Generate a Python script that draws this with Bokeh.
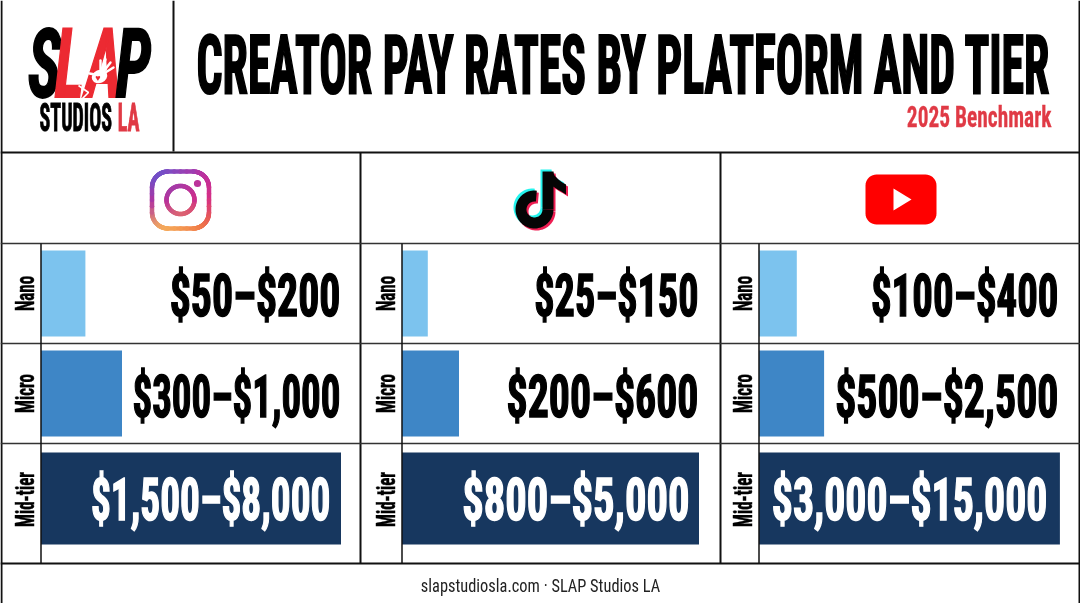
import numpy as np
from bokeh.plotting import figure
from bokeh.models import Range1d, CustomJS
from bokeh.document import Document
from bokeh.core.properties import value
from bokeh.embed import file_html
from bokeh.resources import INLINE

TITLE = "CREATOR PAY RATES BY PLATFORM AND TIER"
SUBTITLE = "2025 Benchmark"
FOOTER = "slapstudiosla.com · SLAP Studios LA"
tiers = ["Nano", "Micro", "Mid-tier"]
tier_colors = ["#7CC3EE", "#3E86C6", "#17375F"]
platforms = ["Instagram", "TikTok", "YouTube"]
instagram_labels = ["$50–$200", "$300–$1,000", "$1,500–$8,000"]
tiktok_labels = ["$25–$150", "$200–$600", "$800–$5,000"]
youtube_labels = ["$100–$400", "$500–$2,500", "$3,000–$15,000"]
# bar lengths as drawn, in percent of the widest bar
instagram_bars = [14.8, 27.0, 100.0]
tiktok_bars = [8.6, 19.0, 99.0]
youtube_bars = [12.6, 21.7, 100.3]

W, H = 1080, 603
COND = value("Roboto Condensed")
p = figure(width=W, height=H, x_range=Range1d(0, W), y_range=Range1d(H, 0),
           output_backend="svg", toolbar_location=None, min_border=0,
           outline_line_color=None, background_fill_color="white", border_fill_color="white")
p.axis.visible = False
p.grid.visible = False
p.styles = {"position": "fixed", "left": "0", "top": "0"}

stretch = {}  # "text@size" -> [x stretch, y stretch, stroke, anchor]

def label(x, y, t, size, color="black", style="bold", align="center", angle=0.0, sx=1.0, sy=1.0, stroke=0.0):
    p.text([x], [y], text=[t], angle=angle, text_align=align, text_baseline="middle", text_font=COND,
           text_font_style=style, text_font_size=f"{size}px", text_color=color)
    stretch[f"{t}@{size}"] = [sx, sy, stroke, {"left": 0.0, "center": 0.5, "right": 1.0}[align]]

def rule(x0, y0, x1, y1, w=2.0, c="#111111"):
    p.line([x0, x1], [y0, y1], line_color=c, line_width=w)

# ---- grid frame
rule(1, 0, 1, 603); rule(1079, 0, 1079, 603)
rule(173, 0, 173, 151)
rule(0, 152, 1080, 152); rule(0, 563, 1080, 563)
rule(360, 152, 360, 563); rule(720, 152, 720, 563)
for yy in (243, 343, 443):
    rule(0, yy, 1080, yy, 1.5, "#333333")

# ---- panels
panel_axis = [40.5, 401.5, 758.5]
panel_right = [340, 698, 1058]
mid_right = [330, 689, 1047]
scale = 3.0
row_top = [250, 350, 452]
row_bot = [336, 436, 544]
tier_y = [293, 393, 499]
value_y = [295, 396, 499]
value_fit = {"$50–$200": 1.10, "$300–$1,000": 1.025, "$1,500–$8,000": 1.035,
             "$25–$150": 1.058, "$200–$600": 1.10, "$800–$5,000": 1.12,
             "$100–$400": 1.075, "$500–$2,500": 1.10, "$3,000–$15,000": 1.10}
all_bars = [instagram_bars, tiktok_bars, youtube_bars]
all_labels = [instagram_labels, tiktok_labels, youtube_labels]
for i in range(3):
    ax = panel_axis[i]
    p.quad(left=[ax] * 3, right=[ax + v * scale for v in all_bars[i]],
           top=row_top, bottom=row_bot, fill_color=tier_colors, line_color=None)
    rule(ax, 243, ax, 563, 1.5)
    for j, t in enumerate(tiers):
        label(ax - 16, tier_y[j], t, 17, angle=np.pi / 2, sy=1.5, stroke=0.3)
        txt = all_labels[i][j]
        label(panel_right[i] if j < 2 else mid_right[i], value_y[j], txt, 38,
              color="white" if j == 2 else "black", align="right", sx=value_fit[txt], sy=1.57, stroke=1.0)

# ---- header
label(196, 65, TITLE, 44, align="left", sx=1.04, sy=1.85, stroke=1.2)
label(1051, 117, SUBTITLE, 22, color="#E03A45", align="right", sx=0.973, sy=1.3, stroke=0.2)
label(540, 585, FOOTER, 17, color="#222222", style="normal", sx=0.964, sy=1.1)

# ---- logo
label(44, 64, "S", 64, style="bold italic", sy=1.5, stroke=1.2)
label(88, 64, "LA", 64, color="#EC2A32", style="bold italic", sy=1.5, stroke=1.2)
label(133, 64, "P", 64, style="bold italic", sy=1.5, stroke=1.2)
label(39, 117, "STUDIOS", 20, align="left", sy=1.9, stroke=0.5)
label(139, 117, "LA", 20, color="#E03A45", align="right", sy=1.9, stroke=0.5)
# hand print on the logo's A
for tx, ty in [(100, 60), (105, 59), (110, 62), (113, 67), (89, 73)]:
    p.line([100, tx], [75, ty], line_color="white", line_width=2.4, line_cap="round")
p.ellipse([99], [76], width=[16], height=[13], angle=[0.4], fill_color="white", line_color=None)
p.text([97.5], [77], text=["♥"], text_align="center", text_baseline="middle",
       text_color="#EC2A32", text_font_size="9px")
p.line([78, 88, 81], [85, 92, 99], line_color="white", line_width=1.6)

# ---- Instagram icon
def rounded_rect(cx, cy, hw, hh, r, n=10):
    xs, ys = [], []
    for ccx, ccy, a0 in [(cx + hw - r, cy - hh + r, -np.pi / 2), (cx + hw - r, cy + hh - r, 0.0),
                         (cx - hw + r, cy + hh - r, np.pi / 2), (cx - hw + r, cy - hh + r, np.pi)]:
        a = np.linspace(a0, a0 + np.pi / 2, n)
        xs += list(ccx + r * np.cos(a)); ys += list(ccy + r * np.sin(a))
    return xs, ys

def lerp(a, b, t):
    return [a[k] + (b[k] - a[k]) * t for k in range(3)]

def ig_color(u, v):
    # u: 0 left .. 1 right; v: 0 top .. 1 bottom
    top = lerp((0x5B, 0x5B, 0xD6), (0xBE, 0x2F, 0xA0), u)
    mid = lerp((0xB0, 0x33, 0x9F), (0xD6, 0x2E, 0x84), u)
    bot = lerp((0xFC, 0xC4, 0x5C), (0xF0, 0x70, 0x3F), u)
    c = lerp(top, mid, v * 2) if v < 0.5 else lerp(mid, bot, (v - 0.5) * 2)
    return "#%02x%02x%02x" % tuple(int(round(q)) for q in c)

def grad_stroke(xs, ys, w, box):
    xs = list(xs) + [xs[0]]; ys = list(ys) + [ys[0]]
    x0, x1, y0, y1 = box
    segx, segy, cols = [], [], []
    for k in range(len(xs) - 1):
        mx, my = (xs[k] + xs[k + 1]) / 2, (ys[k] + ys[k + 1]) / 2
        segx.append([xs[k], xs[k + 1]]); segy.append([ys[k], ys[k + 1]])
        cols.append(ig_color((mx - x0) / (x1 - x0), (my - y0) / (y1 - y0)))
    p.multi_line(segx, segy, line_color=cols, line_width=w, line_cap="round")

icx, icy = 180, 199.5
box = (icx - 30, icx + 30, icy - 30, icy + 30)
rx, ry = rounded_rect(icx, icy, 28.5, 28.5, 16, 10)
rxx, ryy = [], []
for k in range(len(rx)):
    a, b = k, (k + 1) % len(rx)
    for t in np.linspace(0, 1, 5)[:-1]:
        rxx.append(rx[a] + (rx[b] - rx[a]) * t); ryy.append(ry[a] + (ry[b] - ry[a]) * t)
grad_stroke(rxx, ryy, 4.5, box)
th = np.linspace(0, 2 * np.pi, 61)[:-1]
grad_stroke(icx + 14 * np.cos(th), icy + 14 * np.sin(th), 4.5, box)
p.circle([197], [183], radius=3.6, fill_color=ig_color(0.85, 0.2), line_color=None)

# ---- TikTok icon
def tiktok(dx, dy, color):
    cx, cy, r, w = 534 + dx, 209 + dy, 13.5, 11
    ang = np.linspace(0, 4.85, 50)
    p.line(list(cx + r * np.cos(ang)), list(cy + r * np.sin(ang)), line_color=color, line_width=w)
    sx = cx + r
    p.line([sx, sx], [171 + dy, cy], line_color=color, line_width=w)
    t = np.linspace(0, 1, 12)
    topx = sx + 5 + t * 13
    topy = 171 + dy + 13 * t ** 0.55
    botx = sx + 5 + (1 - t) * 13
    boty = 194 + dy - 8 * t
    p.patch(list(topx) + list(botx), list(topy) + list(boty), fill_color=color, line_color=None)

tiktok(-2, -2, "#25F4EE")
tiktok(2, 2, "#EE1D52")
tiktok(0, 0, "#050505")

# ---- YouTube icon
yx, yy_ = rounded_rect(900.5, 199, 35.5, 25, 11)
p.patch(yx, yy_, fill_color="#FF0000", line_color=None)
p.patch([893, 893, 911], [188, 210, 199], fill_color="white", line_color=None)

code = """
function collect(root, out) {
  root.querySelectorAll('*').forEach(e => {
    if (e.tagName.toLowerCase() === 'text') out.push(e);
    if (e.shadowRoot) collect(e.shadowRoot, out);
  });
}
function apply() {
  const out = [];
  collect(document, out);
  out.forEach(el => {
    if (el.dataset.fit) return;
    const key = el.textContent + '@' + Math.round(parseFloat(getComputedStyle(el).fontSize));
    const s = st[key];
    if (!s) return;
    const b = el.getBBox();
    const cx = b.x + b.width * s[3], cy = b.y + b.height / 2;
    const t = el.getAttribute('transform') || '';
    el.setAttribute('transform', `${t} translate(${cx},${cy}) scale(${s[0]},${s[1]}) translate(${-cx},${-cy})`);
    if (s[2] > 0) {
      el.setAttribute('stroke', el.getAttribute('fill') || getComputedStyle(el).fill);
      el.setAttribute('stroke-width', s[2]);
    }
    el.dataset.fit = '1';
  });
}
setTimeout(apply, 50); setTimeout(apply, 300); setTimeout(apply, 800);
"""
doc = Document()
doc.add_root(p)
doc.js_on_event("document_ready", CustomJS(args=dict(st=stretch), code=code))
open("out.html", "w").write(file_html(p, INLINE))
